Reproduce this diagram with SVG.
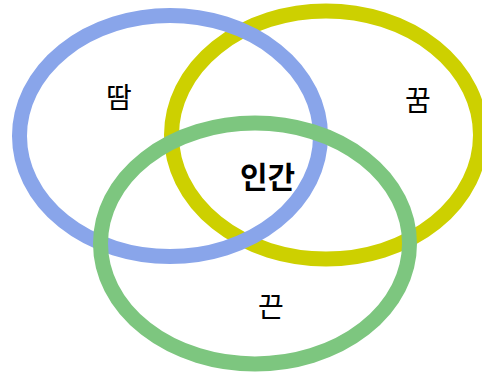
<svg xmlns="http://www.w3.org/2000/svg" width="482" height="376" viewBox="0 0 482 376">
<style>
.ring{fill:none;stroke-width:15}
.lbl{font-family:"Noto Sans CJK KR","Noto Sans",sans-serif;font-size:28px;fill:#000;text-anchor:middle;dominant-baseline:central}
</style>
<rect width="482" height="376" fill="#fff"/>
<g id="connectors"></g>
<g id="ring-dream"><ellipse class="ring" cx="326" cy="135" rx="154.5" ry="124" stroke="#cdd000"/></g>
<g id="ring-sweat"><ellipse class="ring" cx="170" cy="136" rx="150.5" ry="120.5" stroke="#89a5ea"/></g>
<g id="ring-bond"><ellipse class="ring" cx="255" cy="243.5" rx="154.5" ry="120.5" stroke="#7dc67f"/></g>
<g id="label-sweat"><text class="lbl" x="119" y="95.5">땀</text></g>
<g id="label-dream"><text class="lbl" x="418" y="99">꿈</text></g>
<g id="label-human"><text class="lbl" x="267.5" y="174.5" font-weight="bold" style="font-size:30px">인간</text></g>
<g id="label-bond"><text class="lbl" x="271" y="305">끈</text></g>
</svg>
